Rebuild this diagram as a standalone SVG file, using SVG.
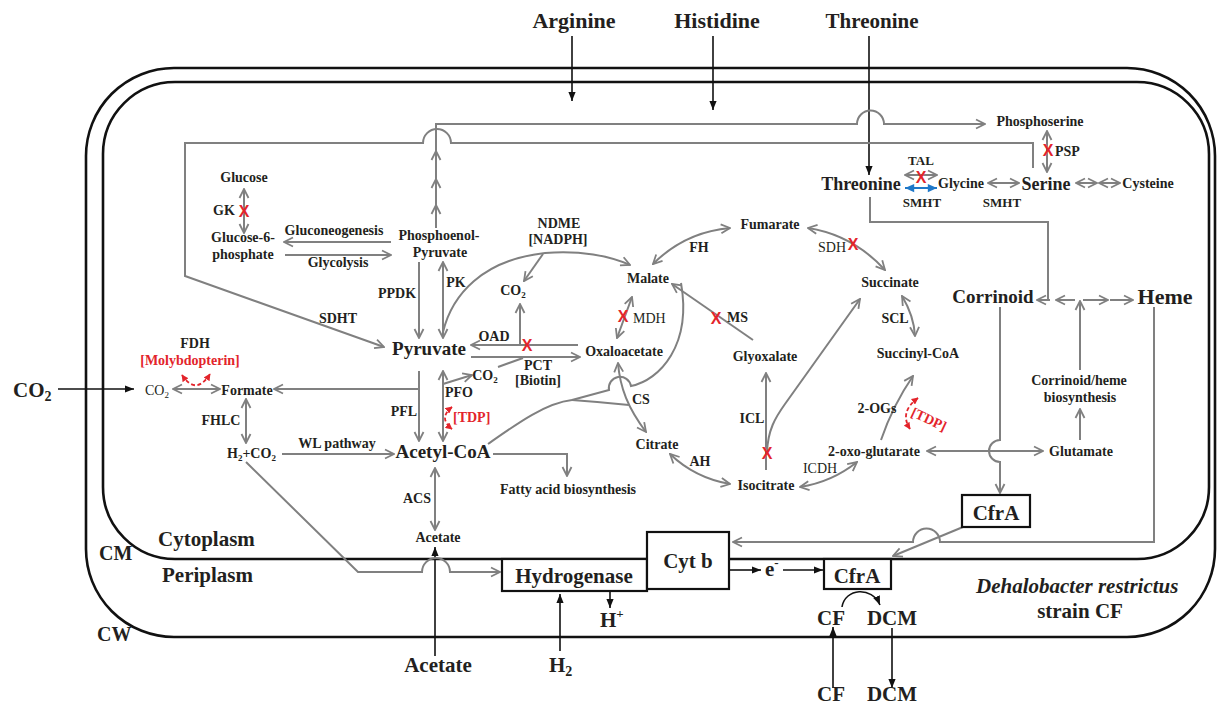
<svg xmlns="http://www.w3.org/2000/svg" width="1217" height="707" viewBox="0 0 1217 707">
<defs>
<style>
text{font-family:"Liberation Serif","Times New Roman",serif;fill:#231f20}
.s13{font-size:13px;font-weight:bold}
.s14{font-size:14px;font-weight:bold}
.r14{font-size:14px}
.s18{font-size:18px;font-weight:bold}
.s19{font-size:19px;font-weight:bold}
.s20{font-size:20px;font-weight:bold}
.s21{font-size:21px;font-weight:bold}
.s22{font-size:22px;font-weight:bold}
.red{fill:#e3242b}
.x{font-family:"Liberation Sans",Arial,sans-serif;font-weight:bold;font-size:16px;fill:#e3242b;text-anchor:middle}
.m{text-anchor:middle}
.g{fill:none;stroke:#808080;stroke-width:2}
.ga{marker-end:url(#ga)}
.gd{marker-start:url(#ga);marker-end:url(#ga)}
.k{fill:none;stroke:#111;stroke-width:1.6;marker-end:url(#ka)}
.mem{fill:none;stroke:#111;stroke-width:2.6}
.box{fill:#fff;stroke:#111;stroke-width:2.2}
.rd{fill:none;stroke:#e3242b;stroke-width:1.8;stroke-dasharray:4 2.5;marker-start:url(#ra);marker-end:url(#ra)}
.bl{fill:none;stroke:#1f78c8;stroke-width:2;marker-start:url(#ba);marker-end:url(#ba)}
</style>
<marker id="ga" viewBox="0 0 12 12" refX="11" refY="6" markerWidth="12" markerHeight="12" markerUnits="userSpaceOnUse" orient="auto-start-reverse"><path d="M2,1.5 L11,6 L2,10.5" fill="none" stroke="#808080" stroke-width="1.8"/></marker>
<marker id="ba" viewBox="0 0 12 12" refX="11" refY="6" markerWidth="11" markerHeight="11" markerUnits="userSpaceOnUse" orient="auto-start-reverse"><path d="M1,1.5 L11,6 L1,10.5 z" fill="#1f78c8"/></marker>
<marker id="ka" viewBox="0 0 10 10" refX="10" refY="5" markerWidth="9" markerHeight="9" markerUnits="userSpaceOnUse" orient="auto-start-reverse"><path d="M0,1 L10,5 L0,9 z" fill="#111"/></marker>
<marker id="ra" viewBox="0 0 10 10" refX="9" refY="5" markerWidth="7" markerHeight="7" markerUnits="userSpaceOnUse" orient="auto-start-reverse"><path d="M0,0 L10,5 L0,10 z" fill="#e3242b"/></marker>
</defs>
<rect width="1217" height="707" fill="#fff"/>
<g id="membranes">
<rect class="mem" x="86" y="68" width="1129" height="569" rx="88"/>
<rect class="mem" x="103" y="82" width="1106" height="477" rx="72"/>
</g>
<g id="connectors">
<path class="k" d="M572,36 V101"/>
<path class="k" d="M713,36 V110"/>
<path class="k" d="M869,36 V175"/>
<path class="k" d="M58,389 H134"/>
<path class="k" d="M729,570 H761"/>
<path class="k" d="M783,570 H823"/>
<path class="k" d="M610,592 V608"/>
<path class="k" d="M560,651 V594"/>
<path class="k" d="M435,656 V547"/>
<path class="k" d="M833,688 V627"/>
<path class="k" d="M892,628 V688"/>
<path class="k" d="M842,607 C845,588 872,586 880,605"/>
<path class="g ga" d="M1033,168 V143 H451 A14,14 0 0 0 423,143 H185 V276 L384,347"/>
<path class="g ga" d="M436,153 V124 H857 A13.5,13.5 0 0 1 884,124 H985"/>
<path class="g ga" d="M436,228 V205"/>
<path class="g ga" d="M436,207 V179"/>
<path class="g ga" d="M436,181 V151"/>
<path class="g gd" d="M244,189 V233"/>
<path class="g ga" d="M391,242 H284"/>
<path class="g ga" d="M285,255 H391"/>
<path class="g ga" d="M419,262 V338"/>
<path class="g gd" d="M443,262 V338"/>
<path class="g ga" d="M443,332 C452,295 482,260 545,253 C580,250 610,256 630,265"/>
<path class="g ga" d="M543,254 L524,281"/>
<path class="g ga" d="M578,345 H471"/>
<path class="g ga" d="M520,345 V304"/>
<path class="g ga" d="M471,357 H580"/>
<path class="g" d="M498,367 L523,358"/>
<path class="g ga" d="M443,384 L472,375"/>
<path class="g gd" d="M443,371 V441"/>
<path class="g ga" d="M419,371 V441"/>
<path class="g ga" d="M419,389 H274"/>
<path class="g gd" d="M173,389 H220"/>
<path class="g gd" d="M246,399 V443"/>
<path class="g ga" d="M282,454 H394"/>
<path class="g ga" d="M246,462 L358,572 H422 A14,14 0 0 1 450,572 H500"/>
<path class="g gd" d="M435,468 V530"/>
<path class="g ga" d="M493,454 H567 V476"/>
<path class="g" d="M488,444 C515,425 545,403 572,400"/>
<path class="g" d="M572,400 Q600,402 629,405"/>
<path class="g" d="M572,400 L609,390 A11,11 0 0 1 631,386 C660,380 692,345 681,283"/>
<path class="g gd" d="M618,363 C620,388 628,408 646,432"/>
<path class="g gd" d="M632,297 L617,338"/>
<path class="g gd" d="M653,264 Q685,232 730,228"/>
<path class="g gd" d="M808,228 Q853,235 885,270"/>
<path class="g gd" d="M902,296 Q914,316 915,336"/>
<path class="g ga" d="M753,340 L672,284"/>
<path class="g ga" d="M766,470 V373"/>
<path class="g ga" d="M767,452 C768,430 775,418 785,404 L860,299"/>
<path class="g gd" d="M670,454 Q695,478 730,484"/>
<path class="g gd" d="M800,487 Q832,482 857,462"/>
<path class="g ga" d="M881,440 Q893,405 913,376"/>
<path class="g gd" d="M927,451 H1043"/>
<path class="g ga" d="M1000,307 V440 A11,11 0 0 0 1000,462 V493"/>
<path class="g ga" d="M1154,307 V542 H940 A13.5,13.5 0 0 0 913,542 H733"/>
<path class="g ga" d="M963,527 L893,556"/>
<path class="g" d="M870,197 V222 H1048 V300"/>
<path class="g ga" d="M1050,300 H1037"/>
<path class="g ga" d="M1075,300 H1056"/>
<path class="g ga" d="M1083,300 H1108"/>
<path class="g ga" d="M1110,300 H1133"/>
<path class="g ga" d="M1080,370 V301"/>
<path class="g ga" d="M1080,440 V409"/>
<path class="g gd" d="M905,175 H937"/>
<path class="bl" d="M905,188 H937"/>
<path class="g gd" d="M988,183 H1019"/>
<path class="g gd" d="M1076,183 H1097"/>
<path class="g gd" d="M1099,183 H1120"/>
<path class="g gd" d="M1047,131 V172"/>
<path class="rd" d="M182,375 Q196,396 210,374"/>
<path class="rd" d="M452,407 Q438,418 452,429"/>
<path class="rd" d="M918,398 Q899,412 910,429"/>
</g>
<g id="labels">
<text class="s22 m" x="574" y="28">Arginine</text>
<text class="s22 m" x="717" y="28">Histidine</text>
<text class="s21 m" x="872" y="28">Threonine</text>
<text class="s21" x="13" y="397">CO<tspan font-size="14" dy="4">2</tspan></text>
<text class="s21" x="158" y="546">Cytoplasm</text>
<text class="s21" x="162" y="582">Periplasm</text>
<text class="s20" x="99" y="560">CM</text>
<text class="s20" x="97" y="641">CW</text>
<text class="s21" x="976" y="593" font-style="italic">Dehalobacter restrictus</text>
<text class="s21 m" x="1080" y="618">strain CF</text>
<text class="s21" x="765" y="576">e<tspan font-size="13" dy="-9">-</tspan></text>
<text class="s21" x="600" y="627">H<tspan font-size="13" dy="-9">+</tspan></text>
<text class="s21" x="549" y="672">H<tspan font-size="14" dy="4">2</tspan></text>
<text class="s21 m" x="438" y="672">Acetate</text>
<text class="s21 m" x="831" y="701">CF</text>
<text class="s21 m" x="892" y="701">DCM</text>
</g>
<g id="n-glucose"><text class="s14 m" x="244" y="182">Glucose</text></g>
<g id="e-gk"><text class="s14 m" x="224" y="215">GK</text><text class="x" x="244" y="217">X</text></g>
<g id="n-g6p"><text class="s14 m" x="243" y="242">Glucose-6-</text><text class="s14 m" x="243" y="259">phosphate</text></g>
<g id="e-gluconeo"><text class="s14 m" x="334" y="235">Gluconeogenesis</text></g>
<g id="e-glycolysis"><text class="s14 m" x="338" y="267">Glycolysis</text></g>
<g id="n-pep"><text class="s14 m" x="439" y="240">Phosphoenol-</text><text class="s14 m" x="440" y="257">Pyruvate</text></g>
<g id="e-ppdk"><text class="s14 m" x="397" y="298">PPDK</text></g>
<g id="e-pk"><text class="s14 m" x="456" y="287">PK</text></g>
<g id="e-sdht"><text class="s14 m" x="338" y="323">SDHT</text></g>
<g id="n-pyruvate"><text class="s19 m" x="429" y="355">Pyruvate</text></g>
<g id="e-ndme"><text class="s14 m" x="559" y="228">NDME</text><text class="s14 m" x="558" y="244">[NADPH]</text></g>
<g id="n-co2a"><text class="s14 m" x="513" y="295">CO<tspan font-size="9" dy="3">2</tspan></text></g>
<g id="e-oad"><text class="s14 m" x="494" y="341">OAD</text><text class="x" x="527" y="351">X</text></g>
<g id="e-pct"><text class="s14 m" x="538" y="370">PCT</text><text class="s14 m" x="538" y="385">[Biotin]</text></g>
<g id="n-co2b"><text class="s14 m" x="485" y="380">CO<tspan font-size="9" dy="3">2</tspan></text></g>
<g id="e-pfo"><text class="s14 m" x="459" y="397">PFO</text><text class="s14 red" x="453" y="422">[TDP]</text></g>
<g id="e-pfl"><text class="s14 m" x="404" y="416">PFL</text></g>
<g id="e-fdh"><text class="s14 m" x="195" y="348">FDH</text><text class="s14 m red" x="190" y="365">[Molybdopterin]</text></g>
<g id="n-co2c"><text class="r14 m" x="157" y="395">CO<tspan font-size="9" dy="3">2</tspan></text></g>
<g id="n-formate"><text class="s14 m" x="247" y="395">Formate</text></g>
<g id="e-fhlc"><text class="s14 m" x="221" y="425">FHLC</text></g>
<g id="n-h2co2"><text class="s14" x="227" y="458">H<tspan font-size="9" dy="3">2</tspan><tspan dy="-3">+CO</tspan><tspan font-size="9" dy="3">2</tspan></text></g>
<g id="e-wl"><text class="s14 m" x="337" y="448">WL pathway</text></g>
<g id="n-acetylcoa"><text class="s19 m" x="443" y="458">Acetyl-CoA</text></g>
<g id="e-acs"><text class="s14 m" x="417" y="503">ACS</text></g>
<g id="n-acetate"><text class="s14 m" x="438" y="542">Acetate</text></g>
<g id="n-fatty"><text class="s14 m" x="568" y="494">Fatty acid biosynthesis</text></g>
<g id="n-malate"><text class="s14 m" x="648" y="283">Malate</text></g>
<g id="e-mdh"><text class="r14" x="633" y="323">MDH</text><text class="x" x="623" y="322">X</text></g>
<g id="n-oaa"><text class="s14 m" x="624" y="356">Oxaloacetate</text></g>
<g id="e-cs"><text class="s14" x="632" y="404">CS</text></g>
<g id="n-citrate"><text class="s14 m" x="657" y="449">Citrate</text></g>
<g id="e-ah"><text class="s14 m" x="700" y="466">AH</text></g>
<g id="n-isocitrate"><text class="s14 m" x="766" y="490">Isocitrate</text></g>
<g id="e-icl"><text class="s14 m" x="752" y="423">ICL</text><text class="x" x="767" y="459">X</text></g>
<g id="n-glyoxalate"><text class="s14 m" x="765" y="361">Glyoxalate</text></g>
<g id="e-ms"><text class="s14" x="727" y="322">MS</text><text class="x" x="716" y="324">X</text></g>
<g id="e-fh"><text class="s14 m" x="699" y="252">FH</text></g>
<g id="n-fumarate"><text class="s14 m" x="770" y="229">Fumarate</text></g>
<g id="e-sdh"><text class="r14 m" x="832" y="252">SDH</text><text class="x" x="853" y="250">X</text></g>
<g id="n-succinate"><text class="s14 m" x="890" y="287">Succinate</text></g>
<g id="e-scl"><text class="s14 m" x="895" y="323">SCL</text></g>
<g id="n-succoa"><text class="s14 m" x="918" y="358">Succinyl-CoA</text></g>
<g id="e-2ogs"><text class="s14 m" x="877" y="413">2-OGs</text><text class="s14 m red" x="929" y="424" transform="rotate(25 929 419)">[TDP]</text></g>
<g id="n-2og"><text class="s14 m" x="874" y="456">2-oxo-glutarate</text></g>
<g id="e-icdh"><text class="r14 m" x="820" y="473">ICDH</text></g>
<g id="n-glutamate"><text class="s14 m" x="1081" y="456">Glutamate</text></g>
<g id="n-biosyn"><text class="s14 m" x="1079" y="385">Corrinoid/heme</text><text class="s14 m" x="1080" y="402">biosynthesis</text></g>
<g id="n-corrinoid"><text class="s19 m" x="993" y="303">Corrinoid</text></g>
<g id="n-heme"><text class="s22 m" x="1165" y="304">Heme</text></g>
<g id="n-cfra1"><rect class="box" x="962" y="495" width="68" height="32"/><text class="s21 m" x="996" y="520">CfrA</text></g>
<g id="n-threonine"><text class="s18 m" x="861" y="190">Threonine</text></g>
<g id="e-tal"><text class="s13 m" x="921" y="165">TAL</text><text class="x" x="921" y="183">X</text><text class="s13 m" x="922" y="207">SMHT</text></g>
<g id="n-glycine"><text class="s14 m" x="961" y="188">Glycine</text></g>
<g id="e-smht2"><text class="s13 m" x="1002" y="207">SMHT</text></g>
<g id="n-serine"><text class="s18 m" x="1046" y="190">Serine</text></g>
<g id="n-cysteine"><text class="s14 m" x="1148" y="188">Cysteine</text></g>
<g id="n-phosphoserine"><text class="s14 m" x="1040" y="126">Phosphoserine</text></g>
<g id="e-psp"><text class="s14" x="1055" y="156">PSP</text><text class="x" x="1048" y="156">X</text></g>
<g id="n-hydrogenase"><rect class="box" x="502" y="559" width="145" height="32"/><text class="s21 m" x="574" y="583">Hydrogenase</text></g>
<g id="n-cytb"><rect class="box" x="647" y="532" width="82" height="57"/><text class="s21 m" x="688" y="568">Cyt b</text></g>
<g id="n-cfra2"><rect class="box" x="824" y="559" width="67" height="30"/><text class="s21 m" x="857" y="583">CfrA</text></g>
<g id="n-cf"><text class="s21 m" x="831" y="625">CF</text></g>
<g id="n-dcm"><text class="s21 m" x="892" y="625">DCM</text></g>
</svg>
